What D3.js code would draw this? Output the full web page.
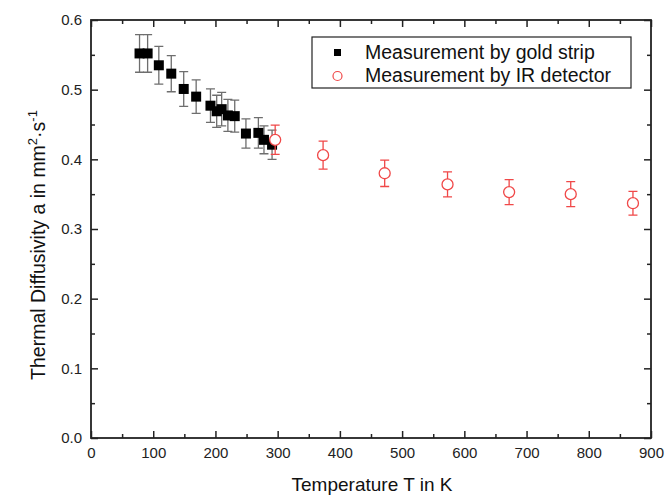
<!DOCTYPE html>
<html>
<head>
<meta charset="utf-8">
<script src="https://cdn.jsdelivr.net/npm/d3@7"></script>
<style>
  body { margin: 0; background: #fff; }
  text { font-family: "Liberation Sans", Arial, sans-serif; }
</style>
</head>
<body>
<div id="chart"></div>
<script>
const width = 669
const height = 495
const margin = ({top: 20, right: 16, bottom: 57, left: 91})

// gold strip measurements
const goldT = [78, 91, 109, 129, 149, 169, 192, 202, 210, 220, 231, 249, 269, 278, 291]
const goldA = [0.552, 0.552, 0.535, 0.523, 0.501, 0.490, 0.477, 0.469, 0.472, 0.463, 0.462, 0.437, 0.438, 0.428, 0.421]
const goldErr = [0.027, 0.027, 0.027, 0.026, 0.025, 0.024, 0.024, 0.023, 0.024, 0.023, 0.023, 0.021, 0.022, 0.020, 0.021]

// IR detector measurements
const irT = [296, 373, 472, 573, 672, 771, 871]
const irA = [0.428, 0.406, 0.380, 0.364, 0.353, 0.350, 0.337]
const irErr = [0.021, 0.020, 0.019, 0.018, 0.018, 0.018, 0.017]

const xTicks = [0, 100, 200, 300, 400, 500, 600, 700, 800, 900]
const yTicks = [0.0, 0.1, 0.2, 0.3, 0.4, 0.5, 0.6]
const legendLabels = ["Measurement by gold strip", "Measurement by IR detector"]

const red = "#f04848"

const gold = goldT.map((t, i) => ({t, a: goldA[i], e: goldErr[i]}))
const ir = irT.map((t, i) => ({t, a: irA[i], e: irErr[i]}))

const x = d3.scaleLinear()
  .domain([0, 900])
  .range([margin.left, width - margin.right - 2])

const y = d3.scaleLinear()
  .domain([0, 0.6])
  .range([height - margin.bottom, margin.top])

const svg = d3.select("#chart").append("svg")
  .attr("width", width)
  .attr("height", height)
  .attr("viewBox", [0, 0, width, height])

const xMinor = d3.range(50, 900, 100)
const yMinor = [0.05, 0.15, 0.25, 0.35, 0.45, 0.55]

const styleAxis = g => {
  g.select(".domain").remove()
  g.selectAll(".tick line").attr("stroke", "#222").attr("stroke-width", 1.5)
  g.selectAll(".tick text").attr("fill", "#222").attr("font-size", 15)
    .attr("font-family", "Liberation Sans, Arial, sans-serif")
}

// bottom
svg.append("g")
  .attr("transform", `translate(0,${y(0)})`)
  .call(d3.axisBottom(x).tickValues(xTicks).tickFormat(d3.format("d")).tickSize(-7).tickPadding(9))
  .call(styleAxis)
svg.append("g")
  .attr("transform", `translate(0,${y(0)})`)
  .call(d3.axisBottom(x).tickValues(xMinor).tickFormat("").tickSize(-4))
  .call(styleAxis)
// top
svg.append("g")
  .attr("transform", `translate(0,${y(0.6)})`)
  .call(d3.axisTop(x).tickValues(xTicks).tickFormat("").tickSize(-7))
  .call(styleAxis)
svg.append("g")
  .attr("transform", `translate(0,${y(0.6)})`)
  .call(d3.axisTop(x).tickValues(xMinor).tickFormat("").tickSize(-4))
  .call(styleAxis)
// left
svg.append("g")
  .attr("transform", `translate(${x(0)},0)`)
  .call(d3.axisLeft(y).tickValues(yTicks).tickFormat(d3.format(".1f")).tickSize(-7).tickPadding(9))
  .call(styleAxis)
svg.append("g")
  .attr("transform", `translate(${x(0)},0)`)
  .call(d3.axisLeft(y).tickValues(yMinor).tickFormat("").tickSize(-4))
  .call(styleAxis)
// right
svg.append("g")
  .attr("transform", `translate(${x(900)},0)`)
  .call(d3.axisRight(y).tickValues(yTicks).tickFormat("").tickSize(-7))
  .call(styleAxis)
svg.append("g")
  .attr("transform", `translate(${x(900)},0)`)
  .call(d3.axisRight(y).tickValues(yMinor).tickFormat("").tickSize(-4))
  .call(styleAxis)

// frame
svg.append("rect")
  .attr("x", x(0)).attr("y", y(0.6))
  .attr("width", x(900) - x(0)).attr("height", y(0) - y(0.6))
  .attr("fill", "none").attr("stroke", "#222").attr("stroke-width", 1.8)

// error bars
const errBars = (data, color, cls) => {
  const g = svg.append("g").attr("class", cls)
    .attr("stroke", color).attr("stroke-width", 1.3).attr("fill", "none")
  const cw = 4.5
  g.selectAll("path").data(data).join("path")
    .attr("d", d => {
      const cx = x(d.t), y1 = y(d.a + d.e), y2 = y(d.a - d.e)
      return `M${cx},${y1}V${y2}M${cx - cw},${y1}H${cx + cw}M${cx - cw},${y2}H${cx + cw}`
    })
}

errBars(gold, "#6e6e6e", "gold-err")

svg.append("g")
  .selectAll("rect").data(gold).join("rect")
  .attr("x", d => x(d.t) - 5)
  .attr("y", d => y(d.a) - 5)
  .attr("width", 10).attr("height", 10)
  .attr("fill", "#000")

errBars(ir, red, "ir-err")

svg.append("g")
  .selectAll("circle").data(ir).join("circle")
  .attr("cx", d => x(d.t))
  .attr("cy", d => y(d.a))
  .attr("r", 5.5)
  .attr("fill", "#fff")
  .attr("stroke", red)
  .attr("stroke-width", 1.3)

// legend
const lg = svg.append("g")
lg.append("rect")
  .attr("x", 312).attr("y", 37).attr("width", 319).attr("height", 51)
  .attr("fill", "#fff").attr("stroke", "#222").attr("stroke-width", 1.2)
lg.append("rect")
  .attr("x", 334).attr("y", 49).attr("width", 7).attr("height", 7).attr("fill", "#000")
lg.append("circle")
  .attr("cx", 337.5).attr("cy", 76).attr("r", 4.5)
  .attr("fill", "#fff").attr("stroke", red).attr("stroke-width", 1.2)
lg.selectAll("text").data(legendLabels).join("text")
  .attr("x", 365)
  .attr("y", (d, i) => 59 + i * 23)
  .attr("font-size", 19.5)
  .attr("fill", "#111")
  .text(d => d)

// axis titles
svg.append("text")
  .attr("x", (x(0) + x(900)) / 2 + 1)
  .attr("y", 491)
  .attr("text-anchor", "middle")
  .attr("font-size", 19)
  .attr("fill", "#111")
  .text("Temperature T in K")

const yt = svg.append("text")
  .attr("transform", `translate(45,245) rotate(-90)`)
  .attr("text-anchor", "middle")
  .attr("font-size", 19.5)
  .attr("fill", "#111")
yt.append("tspan").text("Thermal Diffusivity a in mm")
yt.append("tspan").attr("dy", -8).attr("font-size", 13).text("2")
yt.append("tspan").attr("dy", 8).text("·s")
yt.append("tspan").attr("dy", -8).attr("font-size", 13).text("-1")
</script>
</body>
</html>
